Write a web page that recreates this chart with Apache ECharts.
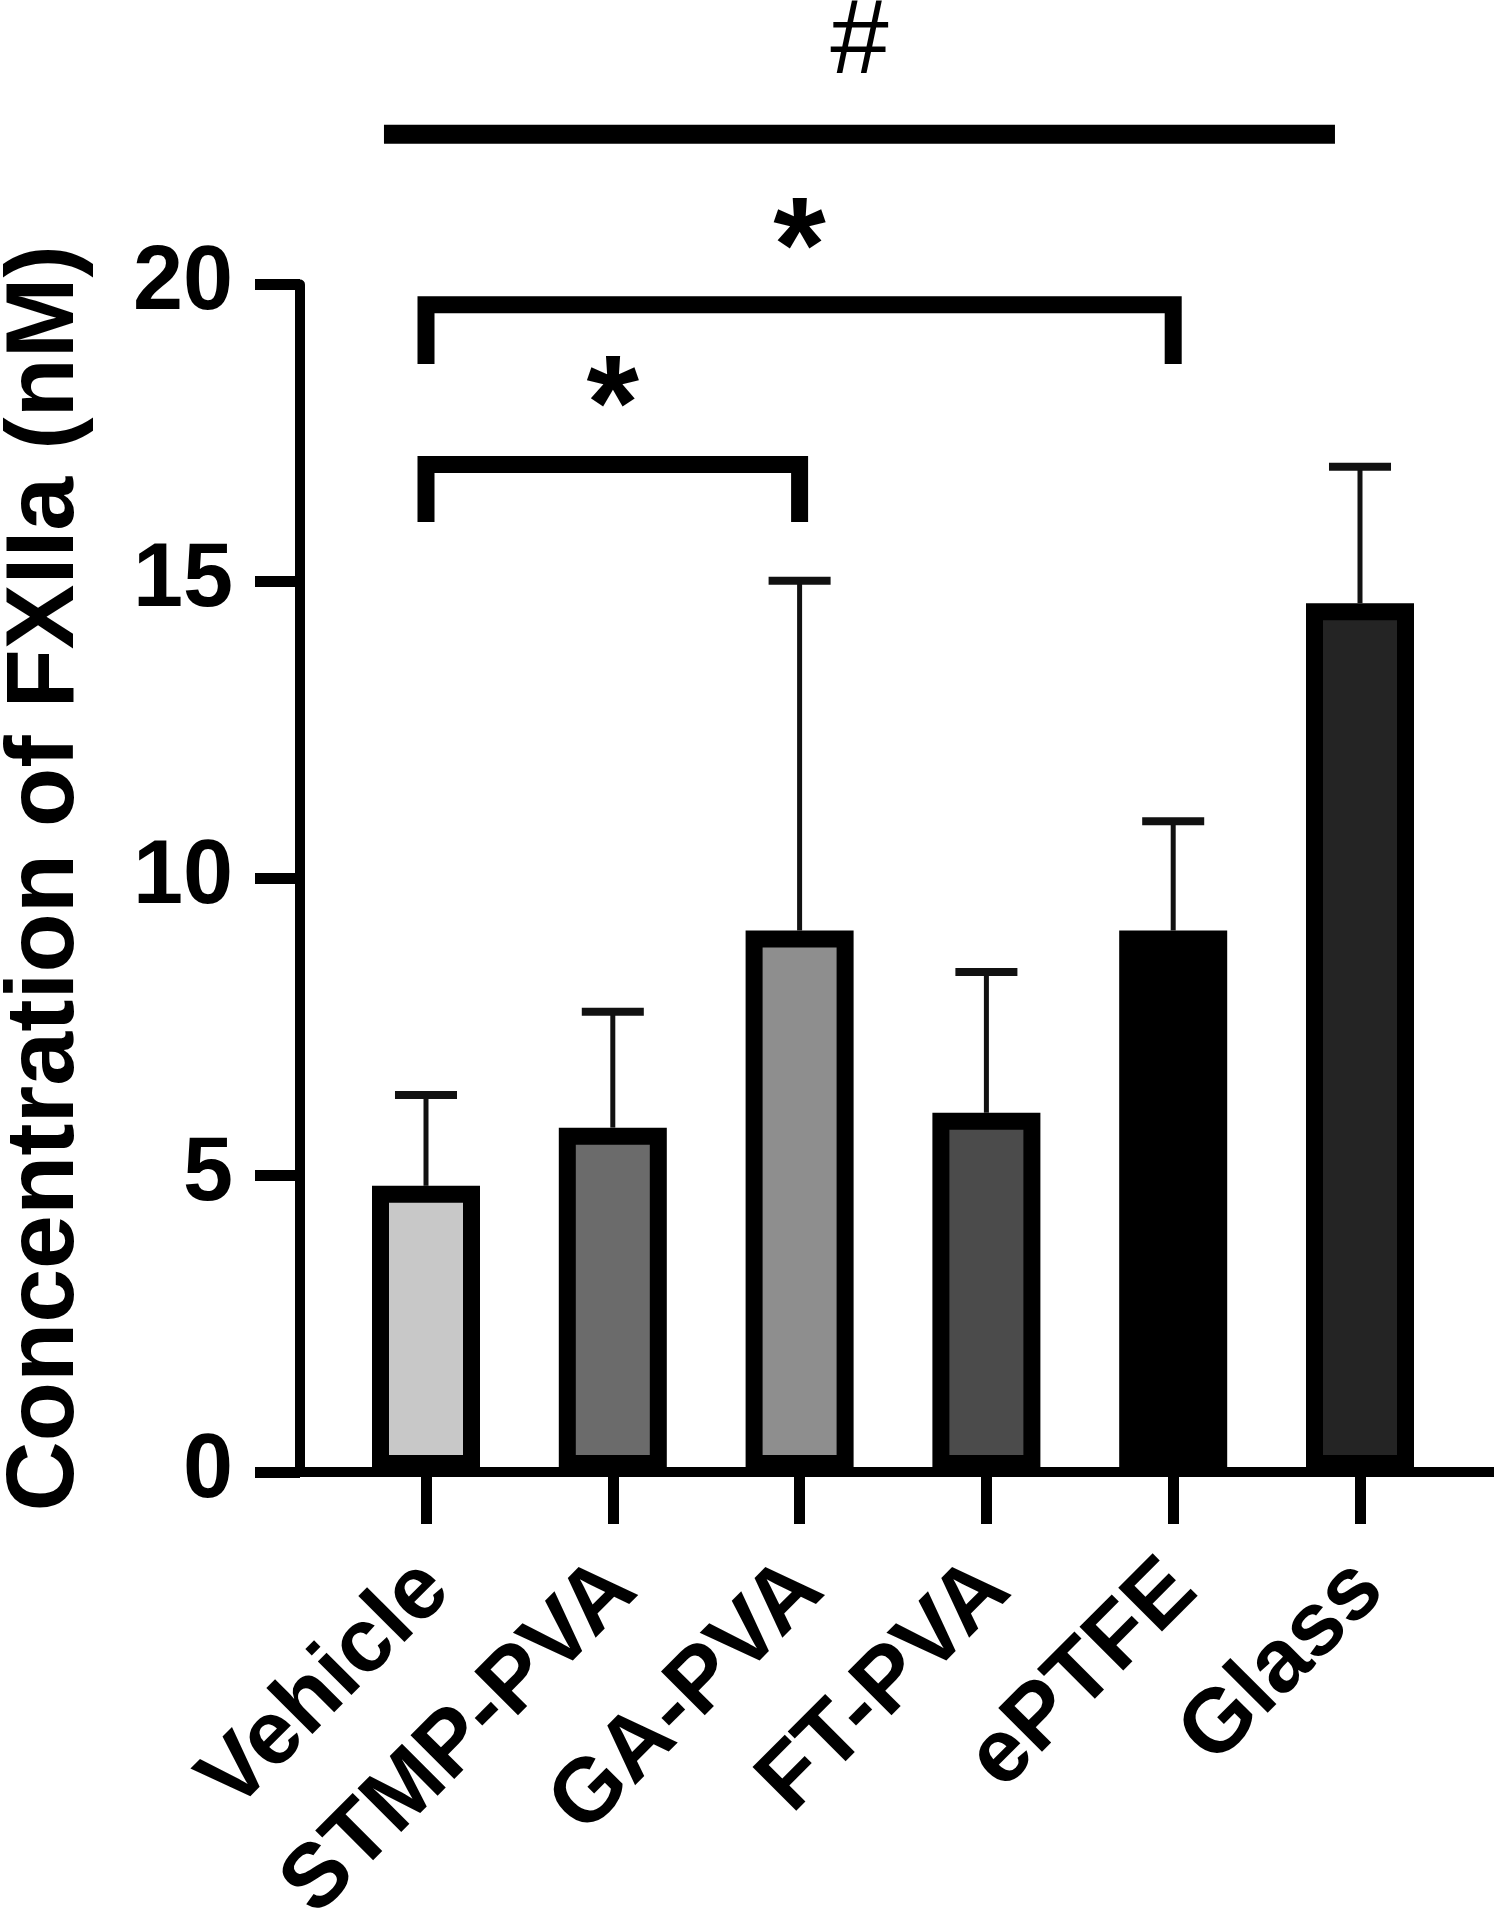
<!DOCTYPE html>
<html><head><meta charset="utf-8">
<script src="https://cdn.jsdelivr.net/npm/echarts@6/dist/echarts.min.js"></script>
<style>html,body{margin:0;padding:0;background:#fff}#c{width:1494px;height:1920px}</style>
</head><body><div id="c"></div>
<script>
// ---- data ----
const categories = ['Vehicle', 'STMP-PVA', 'GA-PVA', 'FT-PVA', 'ePTFE', 'Glass'];
const means = [4.82, 5.80, 9.12, 6.05, 9.12, 14.63];
const sds = [1.53, 1.95, 5.89, 2.37, 1.84, 2.30];
const yMin = 0, yMax = 20, yInterval = 5;
const yTitle = 'Concentration of FXIIa (nM)';
// significance brackets (category positions, y in nM units)
const bracketStart = [0, 0];
const bracketEnd = [2, 4];
const bracketTop = [16.97, 19.66];
const bracketLeg = [16.0, 18.66];
const bracketText = ['*', '*'];
const bracketTextY = [17.85, 20.52];
// overall comparison line
const overallStart = [-0.225];
const overallEnd = [4.866];
const overallY = [22.53];
const overallText = ['#'];
const overallTextY = [24.05];

// ---- styles ----
const barColors = ['#c8c8c8', '#6b6b6b', '#8e8e8e', '#4b4b4b', '#000000', '#242424'];
const FONT = '"Liberation Sans", Arial, sans-serif';

const chart = echarts.init(document.getElementById('c'), null, {renderer: 'canvas'});

function bracketItem(params, api) {
  const i = params.dataIndex;
  const band = api.size([1, 0])[0];
  const x0 = api.coord([0, 0])[0];
  const xa = x0 + api.value(2) * band;
  const xb = x0 + api.value(3) * band;
  const yt = api.coord([0, api.value(1)])[1];
  const yl = api.coord([0, api.value(4)])[1];
  const yTxt = api.coord([0, api.value(5)])[1];
  return {
    type: 'group',
    children: [
      {type: 'polyline', shape: {points: [[xa, yl], [xa, yt], [xb, yt], [xb, yl]]},
       style: {stroke: '#000', lineWidth: 17, fill: null, lineJoin: 'miter', lineCap: 'butt'}},
      {type: 'text', x: (xa + xb) / 2, y: yTxt,
       style: {text: bracketText[i], font: 'bold 135px ' + FONT, fill: '#000', align: 'center', verticalAlign: 'middle'}}
    ]
  };
}
function overallItem(params, api) {
  const i = params.dataIndex;
  const band = api.size([1, 0])[0];
  const x0 = api.coord([0, 0])[0];
  const xa = x0 + api.value(2) * band;
  const xb = x0 + api.value(3) * band;
  const yt = api.coord([0, api.value(1)])[1];
  const yTxt = api.coord([0, api.value(4)])[1];
  return {
    type: 'group',
    children: [
      {type: 'line', shape: {x1: xa, y1: yt, x2: xb, y2: yt},
       style: {stroke: '#000', lineWidth: 19, lineCap: 'butt'}},
      {type: 'text', x: (xa + xb) / 2, y: yTxt,
       style: {text: overallText[i], font: 'normal 105px ' + FONT, fill: '#000', align: 'center', verticalAlign: 'middle'}}
    ]
  };
}

const option = {
  backgroundColor: '#fff',
  animation: false,
  grid: [
    {left: 332.6, right: 40.6, top: 284.5, bottom: 448, outerBoundsMode: 'none', containLabel: false},
    {left: 300, right: 0, top: 284.5, bottom: 448, outerBoundsMode: 'none', containLabel: false}
  ],
  xAxis: [
    {
      type: 'category', gridIndex: 0, data: categories,
      axisLine: {show: false},
      axisTick: {show: true, alignWithLabel: true, length: 52, lineStyle: {color: '#000', width: 11}},
      axisLabel: {rotate: 45, margin: 83, color: '#000', fontSize: 90, fontWeight: 'bold', fontFamily: FONT,
                  interval: 0, verticalAlign: 'top', lineHeight: 43, padding: [0, 8, 0, 0]},
      splitLine: {show: false}
    },
    {
      type: 'value', gridIndex: 1, min: 0, max: 1,
      axisLine: {show: true, onZero: false, lineStyle: {color: '#000', width: 10}},
      axisTick: {show: false}, axisLabel: {show: false}, splitLine: {show: false}
    }
  ],
  yAxis: [
    {type: 'value', gridIndex: 0, min: yMin, max: yMax, interval: yInterval, show: false},
    {
      type: 'value', gridIndex: 1, min: yMin, max: yMax, interval: yInterval,
      name: yTitle, nameLocation: 'middle', nameRotate: 90, nameGap: 205,
      nameTextStyle: {color: '#000', fontSize: 97, fontWeight: 'bold', fontFamily: FONT},
      axisLine: {show: true, onZero: false, lineStyle: {color: '#000', width: 10}},
      axisTick: {show: true, length: 45, lineStyle: {color: '#000', width: 11}},
      axisLabel: {margin: 67, color: '#000', fontSize: 90, fontWeight: 'bold', fontFamily: FONT},
      splitLine: {show: false}
    }
  ],
  series: [
    {
      type: 'bar', xAxisIndex: 0, yAxisIndex: 0, barWidth: 108,
      data: means.map((v, i) => ({value: v, itemStyle: {color: barColors[i], borderColor: '#000', borderWidth: 17}})),
      z: 2
    },
    {
      type: 'custom', xAxisIndex: 0, yAxisIndex: 0, z: 3,
      encode: {x: 0, y: [1, 2]},
      data: means.map((m, i) => [i, m, m + sds[i]]),
      renderItem: function (params, api) {
        const x = api.value(0);
        const lo = api.coord([x, api.value(1)]);
        const hi = api.coord([x, api.value(2)]);
        const hw = api.size([1, 0])[0] * 0.166;
        return {
          type: 'group',
          children: [
            {type: 'line', shape: {x1: lo[0], y1: lo[1], x2: hi[0], y2: hi[1]}, style: {stroke: '#111', lineWidth: 5}},
            {type: 'line', shape: {x1: hi[0] - hw, y1: hi[1], x2: hi[0] + hw, y2: hi[1]}, style: {stroke: '#111', lineWidth: 8}}
          ]
        };
      }
    },
    {
      type: 'custom', xAxisIndex: 0, yAxisIndex: 0, z: 4, clip: false,
      encode: {x: 0, y: 1},
      data: bracketStart.map((s, i) => [0, bracketTop[i], s, bracketEnd[i], bracketLeg[i], bracketTextY[i]]),
      renderItem: bracketItem
    },
    {
      type: 'custom', xAxisIndex: 0, yAxisIndex: 0, z: 4, clip: false,
      encode: {x: 0, y: 1},
      data: overallStart.map((s, i) => [0, overallY[i], s, overallEnd[i], overallTextY[i]]),
      renderItem: overallItem
    }
  ]
};
chart.setOption(option);
</script>
</body></html>
